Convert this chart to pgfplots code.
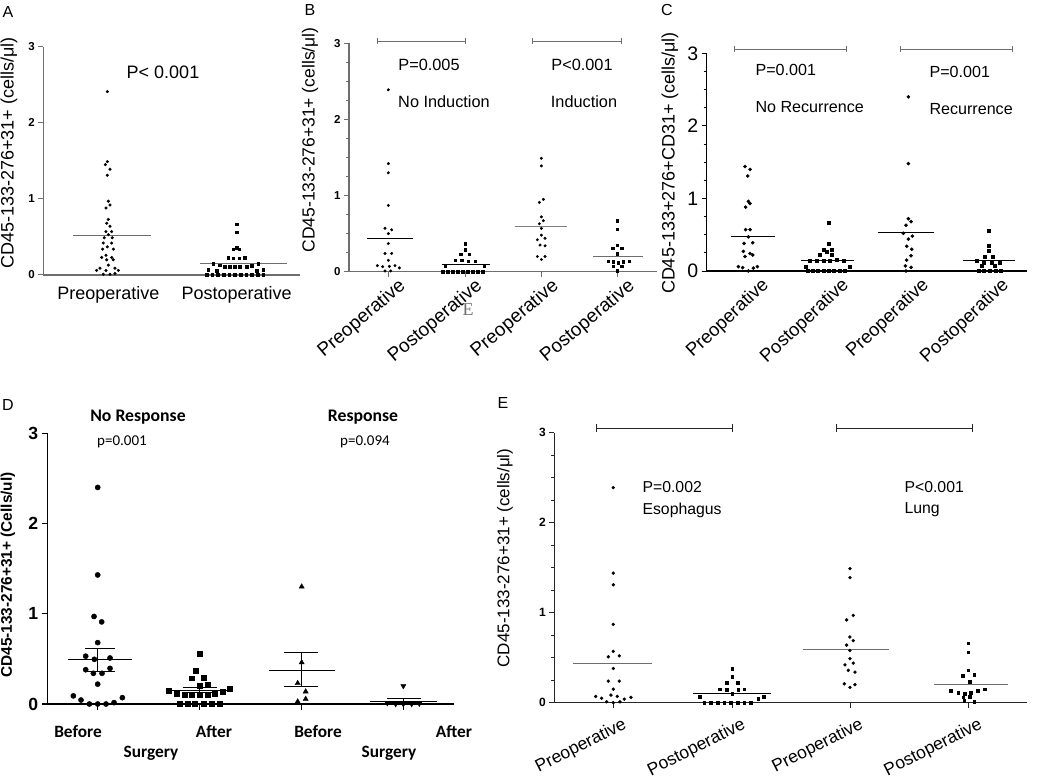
\documentclass[border=0pt]{standalone}
\usepackage{fontspec}
\setmainfont{Liberation Sans}
\newfontfamily\carlito{Carlito}
\newfontfamily\serifE{Liberation Serif}
\usepackage{pgfplots}
\pgfplotsset{compat=1.18}
\newcommand{\fs}[1]{\fontsize{#1}{#1}\selectfont}
\pgfplotsset{
  panel/.style={scale only axis, axis x line*=bottom, axis y line*=left,
    axis line style={-}, ymin=0, ymax=3, ytick={0,1,2,3}, clip=false,
    tick align=outside, major tick length=5pt, minor tick length=3pt},
  dots/.style={only marks, mark=*, mark size=#1, black, mark options={draw=none,fill=black}},
  sq/.style={only marks, mark=square*, mark size=#1, black, mark options={draw=none,fill=black}},
  meanl/.style={no marks, line width=1pt, #1},
}
\definecolor{axgray}{RGB}{110,110,110}
\begin{document}
\begin{tikzpicture}
\useasboundingbox (0pt,0pt) rectangle (1050pt,779pt);
% ---------------- A ----------------
\begin{axis}[panel, at={(43.3pt,504pt)}, anchor=south west, width=256.7pt, height=228.3pt,
  xmin=130, xmax=900, xtick={325,710}, xticklabels={Preoperative,Postoperative},
  xticklabel style={font=\fs{18}, yshift=-3pt}, xtick style={draw=none},
  yticklabels={\textbf{0},\textbf{1},\textbf{2},\textbf{3}}, yticklabel style={font=\fs{11.5}},
  axis line style={axgray, line width=1.2pt}, ytick style={axgray, line width=1pt}]
\addplot[dots=1.35] coordinates {(322,2.41) (322,1.49) (316,1.45) (330,1.39) (322,1.31) (325,0.97) (330,0.92) (318,0.88) (325,0.73) (320,0.68) (330,0.64) (318,0.57) (335,0.57) (325,0.53) (313,0.49) (337,0.49) (310,0.42) (335,0.42) (322,0.37) (308,0.34) (340,0.34) (318,0.26) (305,0.23) (335,0.23) (320,0.20) (340,0.20) (325,0.13) (300,0.09) (345,0.09) (290,0.06) (318,0.06) (355,0.06) (310,0.01) (330,0.01) (345,0.02)};
\addplot[sq=1.3] coordinates {(710,0.67) (710,0.56) (710,0.36) (700,0.34) (718,0.34) (685,0.23) (700,0.22) (718,0.22) (735,0.23) (640,0.15) (660,0.13) (675,0.11) (690,0.11) (705,0.11) (720,0.11) (740,0.11) (755,0.12) (775,0.145) (625,0.07) (650,0.06) (770,0.06) (790,0.07) (620,0) (637,0) (654,0) (671,0) (688,0) (705,0) (722,0) (739,0) (756,0) (773,0) (790,0)};
\addplot[meanl=axgray] coordinates {(220,0.52) (452,0.52)};
\addplot[meanl=axgray] coordinates {(600,0.15) (862,0.15)};
\end{axis}
\node[font=\fs{16}] at (8pt,767pt) {A};
\node[font=\fs{18}, rotate=90] at (9pt,626pt) {CD45-133-276+31+ (cells/μl)};
\node[font=\fs{18}] at (163pt,707pt) {P< 0.001};
% ---------------- B ----------------
\begin{axis}[panel, at={(349pt,507.3pt)}, anchor=south west, width=307.7pt, height=228.3pt,
  xmin=57, xmax=980, xtick={175,405,634,862},
  xticklabels={Preoperative,Postoperative,Preoperative,Postoperative},
  xticklabel style={font=\fs{19}, rotate=40, anchor=north east, xshift=10pt, yshift=-3pt},
  xtick style={axgray, line width=1pt},
  minor y tick num=3,
  yticklabels={\textbf{0},\textbf{1},\textbf{2},\textbf{3}}, yticklabel style={font=\fs{11.5}},
  axis line style={axgray, line width=1.2pt}, ytick style={axgray, line width=1pt}]
\addplot[dots=1.3] coordinates {(175,2.39) (175,1.42) (175,1.30) (175,0.87) (165,0.57) (185,0.55) (175,0.50) (175,0.37) (165,0.24) (185,0.24) (175,0.15) (142,0.08) (158,0.066) (178,0.07) (195,0.08) (208,0.05) (165,0.01) (182,0.01)};
\addplot[sq=1.3] coordinates {(405,0.37) (405,0.29) (392,0.23) (418,0.23) (375,0.15) (395,0.15) (415,0.14) (435,0.14) (345,0.08) (463,0.08) (338,0) (353,0) (368,0) (383,0) (398,0) (413,0) (428,0) (443,0) (458,0)};
\addplot[dots=1.3] coordinates {(634,1.49) (634,1.39) (640,0.95) (628,0.91) (634,0.72) (640,0.67) (628,0.63) (634,0.57) (634,0.48) (622,0.42) (645,0.44) (630,0.35) (645,0.34) (622,0.20) (645,0.20) (634,0.16)};
\addplot[sq=1.3] coordinates {(862,0.67) (862,0.56) (862,0.35) (848,0.31) (875,0.31) (862,0.24) (835,0.14) (850,0.13) (865,0.12) (880,0.13) (897,0.14) (850,0.07) (875,0.07) (862,0.01)};
\addplot[meanl=black] coordinates {(112,0.44) (248,0.44)};
\addplot[meanl=black] coordinates {(335,0.096) (480,0.096)};
\addplot[meanl=gray] coordinates {(555,0.59) (710,0.59)};
\addplot[meanl=axgray] coordinates {(790,0.2) (940,0.2)};
\draw[axgray, line width=1pt] (axis cs:142,3.03) -- (axis cs:407,3.03);
\draw[axgray, line width=1pt] ([yshift=-3pt]axis cs:142,3.03) -- ([yshift=3pt]axis cs:142,3.03);
\draw[axgray, line width=1pt] ([yshift=-3pt]axis cs:407,3.03) -- ([yshift=3pt]axis cs:407,3.03);
\draw[axgray, line width=1pt] (axis cs:607,3.03) -- (axis cs:873,3.03);
\draw[axgray, line width=1pt] ([yshift=-3pt]axis cs:607,3.03) -- ([yshift=3pt]axis cs:607,3.03);
\draw[axgray, line width=1pt] ([yshift=-3pt]axis cs:873,3.03) -- ([yshift=3pt]axis cs:873,3.03);
\end{axis}
\node[font=\fs{16}] at (310pt,769pt) {B};
\node[font=\fs{17.5}, rotate=90] at (310pt,639pt) {CD45-133-276+31+ (cells/μl)};
\node[font=\fs{16.3}] at (429pt,714pt) {P=0.005};
\node[font=\fs{16.3}] at (444pt,677pt) {No Induction};
\node[font=\fs{16.3}] at (582pt,714pt) {P<0.001};
\node[font=\fs{16.3}] at (584pt,677pt) {Induction};
\node[font=\serifE\fs{18}, text=axgray] at (468pt,469pt) {E};
% ---------------- C ----------------
\begin{axis}[panel, at={(706.7pt,508pt)}, anchor=south west, width=320pt, height=217.7pt,
  xmin=80, xmax=1040, xtick={205,445,685,925},
  xticklabels={Preoperative,Postoperative,Preoperative,Postoperative},
  xticklabel style={font=\fs{18.5}, rotate=43, anchor=north east, xshift=12pt, yshift=-5pt},
  xtick style={draw=none},
  minor y tick num=3,
  yticklabels={0,1,2,3}, yticklabel style={font=\fs{19.5}},
  axis line style={black, line width=1.1pt}, ytick style={black, line width=0.9pt}]
\addplot[dots=1.6] coordinates {(195,1.44) (210,1.40) (203,1.31) (205,0.96) (210,0.93) (197,0.88) (197,0.57) (210,0.57) (205,0.47) (192,0.38) (218,0.39) (190,0.27) (210,0.24) (218,0.22) (195,0.20) (175,0.06) (188,0.046) (205,0.0) (220,0.04) (232,0.06)};
\addplot[sq=1.5] coordinates {(445,0.66) (445,0.37) (430,0.30) (455,0.30) (440,0.27) (420,0.22) (455,0.22) (390,0.14) (410,0.14) (430,0.14) (450,0.14) (470,0.15) (490,0.14) (378,0.06) (510,0.06) (382,0) (398,0) (414,0) (430,0) (446,0) (462,0) (478,0) (494,0)};
\addplot[dots=1.6] coordinates {(685,2.40) (685,1.48) (685,0.72) (693,0.68) (678,0.63) (670,0.52) (697,0.48) (685,0.44) (680,0.34) (695,0.30) (693,0.21) (680,0.15) (676,0.07) (693,0.05) (678,0)};
\addplot[sq=1.5] coordinates {(925,0.56) (925,0.35) (925,0.28) (915,0.20) (938,0.20) (890,0.14) (910,0.12) (935,0.11) (960,0.11) (905,0.07) (945,0.07) (895,0) (912,0) (929,0) (946,0) (963,0)};
\addplot[meanl=black] coordinates {(152,0.48) (285,0.48)};
\addplot[meanl=black] coordinates {(362,0.14) (522,0.14)};
\addplot[meanl=black] coordinates {(595,0.53) (762,0.53)};
\addplot[meanl=black] coordinates {(848,0.14) (1005,0.14)};
\draw[axgray, line width=1pt] (axis cs:162,3.055) -- (axis cs:498,3.055);
\draw[axgray, line width=1pt] ([yshift=-3pt]axis cs:162,3.055) -- ([yshift=3pt]axis cs:162,3.055);
\draw[axgray, line width=1pt] ([yshift=-3pt]axis cs:498,3.055) -- ([yshift=3pt]axis cs:498,3.055);
\draw[axgray, line width=1pt] (axis cs:662,3.055) -- (axis cs:998,3.055);
\draw[axgray, line width=1pt] ([yshift=-3pt]axis cs:662,3.055) -- ([yshift=3pt]axis cs:662,3.055);
\draw[axgray, line width=1pt] ([yshift=-3pt]axis cs:998,3.055) -- ([yshift=3pt]axis cs:998,3.055);
\end{axis}
\node[font=\fs{16}] at (667pt,769pt) {C};
\node[font=\fs{18}, rotate=90] at (670pt,616pt) {CD45-133+276+CD31+ (cells/μl)};
\node[font=\fs{16.1}, anchor=west] at (752pt,709pt) {P=0.001};
\node[font=\fs{16.1}, anchor=west] at (752pt,672pt) {No Recurrence};
\node[font=\fs{16.1}, anchor=west] at (926pt,707pt) {P=0.001};
\node[font=\fs{16.1}, anchor=west] at (926pt,670pt) {Recurrence};
% ---------------- D ----------------
\begin{axis}[panel, at={(47.7pt,75pt)}, anchor=south west, width=406.3pt, height=270.7pt,
  xmin=143, xmax=1362, xtick={293,598,905,1210}, xticklabels={},
  major tick length=6pt,
  yticklabels={\textbf{0},\textbf{1},\textbf{2},\textbf{3}}, yticklabel style={font=\fs{17.6}},
  axis line style={black, line width=1.3pt}, tick style={black, line width=1.1pt}]
\addplot[only marks, mark=*, mark size=2.6, black] coordinates {(293,2.40) (293,1.43) (282,0.97) (305,0.91) (293,0.68) (257,0.53) (283,0.495) (330,0.51) (257,0.38) (280,0.34) (306,0.34) (330,0.395) (293,0.22) (220,0.09) (243,0.044) (268,0) (293,0) (318,0) (342,0.015) (367,0.07)};
\addplot[only marks, mark=square*, mark size=2.4, black] coordinates {(598,0.554) (587,0.37) (575,0.285) (610,0.295) (598,0.20) (622,0.21) (507,0.148) (530,0.118) (553,0.10) (575,0.10) (598,0.10) (622,0.10) (645,0.11) (668,0.137) (690,0.17) (538,0) (562,0) (585,0) (610,0) (635,0) (660,0)};
\addplot[only marks, mark=triangle*, mark size=3, black] coordinates {(905,1.30) (905,0.46) (893,0.23) (917,0.137) (893,0.026) (917,0.055)};
\addplot[only marks, mark=triangle*, mark size=3, black, mark options={rotate=180}] coordinates {(1210,0.20) (1162,0.01) (1187,0) (1210,0) (1235,0) (1258,0.005)};
\addplot[meanl=black] coordinates {(203,0.49) (397,0.49)};
\addplot[meanl=black] coordinates {(293,0.355) (293,0.61)};
\addplot[meanl=black] coordinates {(255,0.61) (345,0.61)};
\addplot[meanl=black] coordinates {(255,0.355) (345,0.355)};
\addplot[meanl=black] coordinates {(497,0.15) (700,0.15)};
\addplot[meanl=black] coordinates {(598,0.125) (598,0.18)};
\addplot[meanl=black] coordinates {(548,0.18) (650,0.18)};
\addplot[meanl=black] coordinates {(548,0.125) (650,0.125)};
\addplot[meanl=black] coordinates {(808,0.376) (1005,0.376)};
\addplot[meanl=black] coordinates {(905,0.19) (905,0.576)};
\addplot[meanl=black] coordinates {(853,0.576) (955,0.576)};
\addplot[meanl=black] coordinates {(853,0.19) (955,0.19)};
\addplot[meanl=black] coordinates {(1110,0.033) (1312,0.033)};
\addplot[meanl=black] coordinates {(1210,0.015) (1210,0.06)};
\addplot[meanl=black] coordinates {(1160,0.06) (1262,0.06)};
\addplot[meanl=black] coordinates {(1160,0.015) (1262,0.015)};
\end{axis}
\node[font=\fs{16}] at (8pt,374pt) {D};
\node[font=\bfseries\fs{15.4}, rotate=90] at (8pt,204pt) {CD45-133-276+31+ (Cells/ul)};
\node[font=\carlito\bfseries\fs{17.7}] at (138pt,362pt) {No Response};
\node[font=\carlito\bfseries\fs{17.7}] at (363pt,362pt) {Response};
\node[font=\carlito\fs{15}] at (122pt,337pt) {p=0.001};
\node[font=\carlito\fs{15}] at (365pt,337pt) {p=0.094};
\node[font=\carlito\bfseries\fs{17.3}] at (78pt,47pt) {Before};
\node[font=\carlito\bfseries\fs{17.3}] at (214pt,47pt) {After};
\node[font=\carlito\bfseries\fs{17.3}] at (318pt,47pt) {Before};
\node[font=\carlito\bfseries\fs{17.3}] at (454pt,47pt) {After};
\node[font=\carlito\bfseries\fs{17.3}] at (151pt,26pt) {Surgery};
\node[font=\carlito\bfseries\fs{17.3}] at (389pt,26pt) {Surgery};
% ---------------- E ----------------
\begin{axis}[panel, at={(554.3pt,76.3pt)}, anchor=south west, width=472.3pt, height=270pt,
  xmin=148, xmax=1565, xtick={325,682,1035,1392},
  xticklabels={Preoperative,Postoperative,Preoperative,Postoperative},
  xticklabel style={font=\fs{17.5}, rotate=27, anchor=north east, xshift=7pt, yshift=-8pt},
  minor y tick num=3,
  yticklabels={\textbf{0},\textbf{1},\textbf{2},\textbf{3}}, yticklabel style={font=\fs{12}},
  axis line style={black!85, line width=1.1pt}, tick style={black!85, line width=0.9pt}]
\addplot[dots=1.5] coordinates {(325,2.39) (325,1.44) (325,1.31) (325,0.87) (325,0.57) (343,0.52) (310,0.51) (325,0.38) (310,0.24) (343,0.24) (325,0.15) (272,0.07) (290,0.05) (318,0.085) (337,0.07) (358,0.04) (378,0.06) (305,0.01) (325,0) (345,0.01)};
\addplot[sq=1.4] coordinates {(682,0.38) (682,0.29) (665,0.22) (698,0.22) (645,0.15) (665,0.14) (682,0.10) (700,0.14) (718,0.15) (585,0.07) (776,0.07) (760,0.04) (598,0) (618,0) (638,0) (658,0) (678,0) (698,0) (718,0) (738,0)};
\addplot[dots=1.5] coordinates {(1035,1.49) (1035,1.39) (1045,0.97) (1025,0.92) (1035,0.73) (1045,0.69) (1025,0.64) (1035,0.58) (1035,0.49) (1020,0.42) (1045,0.44) (1030,0.36) (1050,0.34) (1018,0.21) (1050,0.20) (1035,0.17)};
\addplot[sq=1.4] coordinates {(1390,0.66) (1390,0.56) (1390,0.36) (1373,0.30) (1408,0.31) (1395,0.23) (1338,0.13) (1360,0.11) (1380,0.10) (1398,0.11) (1418,0.13) (1440,0.15) (1375,0.06) (1395,0.065) (1378,0.02) (1408,0.01)};
\addplot[meanl=axgray] coordinates {(205,0.437) (442,0.437)};
\addplot[meanl=black] coordinates {(565,0.10) (797,0.10)};
\addplot[meanl=axgray] coordinates {(895,0.59) (1152,0.59)};
\addplot[meanl=axgray] coordinates {(1288,0.2) (1508,0.2)};
\draw[black!85, line width=1pt] (axis cs:275,3.05) -- (axis cs:684,3.05);
\draw[black!85, line width=1pt] ([yshift=-4pt]axis cs:275,3.05) -- ([yshift=4pt]axis cs:275,3.05);
\draw[black!85, line width=1pt] ([yshift=-4pt]axis cs:684,3.05) -- ([yshift=4pt]axis cs:684,3.05);
\draw[black!85, line width=1pt] (axis cs:995,3.05) -- (axis cs:1402,3.05);
\draw[black!85, line width=1pt] ([yshift=-4pt]axis cs:995,3.05) -- ([yshift=4pt]axis cs:995,3.05);
\draw[black!85, line width=1pt] ([yshift=-4pt]axis cs:1402,3.05) -- ([yshift=4pt]axis cs:1402,3.05);
\end{axis}
\node[font=\fs{16}] at (503pt,376pt) {E};
\node[font=\fs{17}, rotate=90] at (505pt,221pt) {CD45-133-276+31+ (cells/μl)};
\node[font=\fs{15.8}, anchor=west] at (639pt,292pt) {P=0.002};
\node[font=\fs{15.8}, anchor=west] at (639pt,269pt) {Esophagus};
\node[font=\fs{15.8}, anchor=west] at (901pt,292pt) {P<0.001};
\node[font=\fs{15.8}, anchor=west] at (901pt,269pt) {Lung};
\end{tikzpicture}
\end{document}
